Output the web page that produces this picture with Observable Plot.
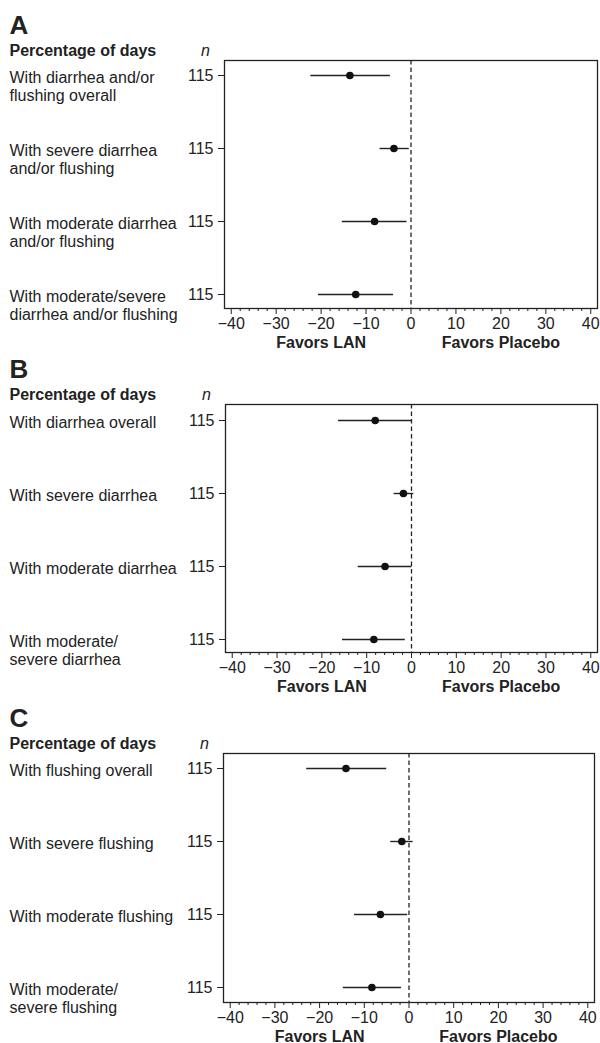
<!DOCTYPE html>
<html><head><meta charset="utf-8">
<script src="https://cdn.jsdelivr.net/npm/d3@7"></script>
<script src="https://cdn.jsdelivr.net/npm/@observablehq/plot@0.6"></script>
<style>
body{margin:0;background:#fff;}
#chart svg{display:block;}
</style>
</head><body><div id="chart"></div>
<script>
// Panel letters and header texts
const panelLetters = ["A", "B", "C"];
const headerLabel = "Percentage of days";
const nHeader = "n";

// Panel A
const labelsA = ["With diarrhea and/or\nflushing overall", "With severe diarrhea\nand/or flushing", "With moderate diarrhea\nand/or flushing", "With moderate/severe\ndiarrhea and/or flushing"];
const nA = [115, 115, 115, 115];
const estA = [-13.6, -3.8, -8.1, -12.3];
const lowA = [-22.4, -7.0, -15.4, -20.7];
const highA = [-4.7, -0.5, -1.0, -4.0];

// Panel B
const labelsB = ["With diarrhea overall", "With severe diarrhea", "With moderate diarrhea", "With moderate/\nsevere diarrhea"];
const nB = [115, 115, 115, 115];
const estB = [-8.1, -1.8, -5.9, -8.4];
const lowB = [-16.4, -4.0, -12.0, -15.5];
const highB = [0.0, 0.4, 0.0, -1.5];

// Panel C
const labelsC = ["With flushing overall", "With severe flushing", "With moderate flushing", "With moderate/\nsevere flushing"];
const nC = [115, 115, 115, 115];
const estC = [-14.1, -1.6, -6.4, -8.3];
const lowC = [-23.0, -4.2, -12.3, -14.8];
const highC = [-5.1, 0.8, -0.4, -1.8];

// Axis
const xTicks = [-40, -30, -20, -10, 0, 10, 20, 30, 40];
const xMinorTicks = [-38, -36, -34, -32, -28, -26, -24, -22, -18, -16, -14, -12, -8, -6, -4, -2, 2, 4, 6, 8, 12, 14, 16, 18, 22, 24, 26, 28, 32, 34, 36, 38];
const favorLabels = ["Favors LAN", "Favors Placebo"];
const favorX = [-20, 20];

const FONT = "'Liberation Sans', Arial, Helvetica, sans-serif";
const INK = "#222";
const FS = 16;
const fmtTick = d => d < 0 ? "\u2212" + Math.abs(d) : String(d);

function panel(letter, labels, n, est, low, high, L) {
  const rows = labels.map((label, i) => ({label, n: n[i], est: est[i], low: low[i], high: high[i]}));
  const favors = favorLabels.map((t, i) => ({t, x: favorX[i]}));
  return Plot.plot({
    width: 600,
    height: L.mt + L.fh + L.mb,
    marginTop: L.mt, marginBottom: L.mb, marginLeft: L.ml, marginRight: L.mr,
    style: {fontFamily: FONT, fontSize: FS + "px", color: INK, background: "#fff", overflow: "visible"},
    x: {domain: [-41.5, 41.5]},
    y: {type: "point", domain: labels, padding: 0, insetTop: L.it, insetBottom: L.ib},
    marks: [
      Plot.frame({stroke: INK, strokeWidth: 1.3}),
      Plot.ruleX([0], {stroke: INK, strokeDasharray: "4.5,3", strokeWidth: 1.3}),
      Plot.link(rows, {x1: "low", x2: "high", y1: "label", y2: "label", stroke: INK, strokeWidth: 1.4}),
      Plot.dot(rows, {x: "est", y: "label", r: 3.8, fill: "#111", stroke: null}),
      Plot.axisY({tickFormat: () => "", tickSize: 6, label: null}),
      Plot.axisX({ticks: xTicks, tickSize: 6, tickFormat: () => "", label: null}),
      Plot.axisX({ticks: xMinorTicks, tickSize: 3, tickFormat: () => "", label: null}),
      // n tick labels
      Plot.text(rows, {y: "label", text: d => String(d.n), frameAnchor: "left", dx: -11, textAnchor: "end", lineAnchor: "middle", fontSize: FS, fill: INK}),
      // x tick labels
      Plot.text(xTicks, {x: d => d, text: fmtTick, frameAnchor: "bottom", dy: 15, lineAnchor: "middle", fontSize: FS, fill: INK}),
      // row category labels
      Plot.text(rows, {y: "label", text: "label", frameAnchor: "left", dx: -(L.ml - 9), dy: -6, textAnchor: "start", lineAnchor: "top", lineHeight: 1.15, fontSize: FS, fill: INK}),
      Plot.text([headerLabel], {text: d => d, frameAnchor: "top-left", dx: -(L.ml - 9), dy: -5, textAnchor: "start", lineAnchor: "bottom", fontWeight: "bold", fontSize: FS, fill: INK}),
      Plot.text([nHeader], {text: d => d, frameAnchor: "top-left", dx: -19, dy: -5, textAnchor: "middle", lineAnchor: "bottom", fontStyle: "italic", fontSize: FS, fill: INK}),
      Plot.text([letter], {text: d => d, frameAnchor: "top-left", dx: -(L.ml - 9), dy: -27, textAnchor: "start", lineAnchor: "bottom", fontWeight: "bold", fontSize: 26, fill: INK}),
      Plot.text(favors, {x: "x", text: "t", frameAnchor: "bottom", dy: 34, lineAnchor: "middle", fontWeight: "bold", fontSize: FS, fill: INK})
    ]
  });
}

const chart = document.getElementById("chart");
chart.appendChild(panel(panelLetters[0], labelsA, nA, estA, lowA, highA, {mt: 60, fh: 248, mb: 36, ml: 224, mr: 3, it: 14, ib: 14}));
chart.appendChild(panel(panelLetters[1], labelsB, nB, estB, lowB, highB, {mt: 60, fh: 248, mb: 37, ml: 225, mr: 3, it: 15, ib: 13}));
chart.appendChild(panel(panelLetters[2], labelsC, nC, estC, lowC, highC, {mt: 64, fh: 249, mb: 41, ml: 223, mr: 6, it: 15, ib: 15}));
</script>
</body></html>
